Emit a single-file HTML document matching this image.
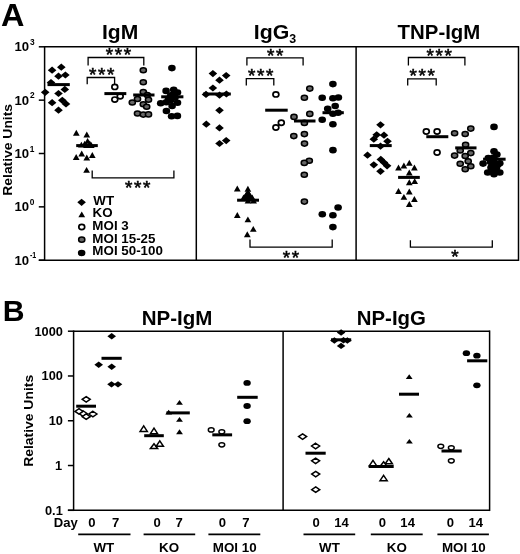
<!DOCTYPE html><html><head><meta charset="utf-8"><style>html,body{margin:0;padding:0;background:#fff;overflow:hidden}svg{display:block;filter:grayscale(1)}</style></head><body>
<svg width="520" height="554" viewBox="0 0 520 554" font-family='"Liberation Sans", sans-serif' font-weight="bold" fill="#000">
<rect width="520" height="554" fill="#fff"/>
<text transform="translate(0.93,26) scale(1.0654,1)" font-size="30.43">A</text>
<line x1="44.6" y1="46.8" x2="518.5" y2="46.8" stroke="#000" stroke-width="1.5"/>
<line x1="38.8" y1="260.2" x2="518.5" y2="260.2" stroke="#000" stroke-width="1.5"/>
<line x1="44.6" y1="46.05" x2="44.6" y2="260.95" stroke="#000" stroke-width="1.5"/>
<line x1="196.3" y1="46.05" x2="196.3" y2="260.2" stroke="#000" stroke-width="1.5"/>
<line x1="356.1" y1="46.05" x2="356.1" y2="260.2" stroke="#000" stroke-width="1.5"/>
<line x1="518.5" y1="46.05" x2="518.5" y2="260.95" stroke="#000" stroke-width="1.5"/>
<line x1="38.8" y1="46.8" x2="44.6" y2="46.8" stroke="#000" stroke-width="1.5"/>
<text transform="translate(14.51,51.4) scale(0.9912,1)" font-size="13.29">10</text>
<text transform="translate(30.03,44.8) scale(0.9152,1)" font-size="9.14">3</text>
<line x1="38.8" y1="100.15" x2="44.6" y2="100.15" stroke="#000" stroke-width="1.5"/>
<text transform="translate(14.51,104.6) scale(0.9912,1)" font-size="13.29">10</text>
<text transform="translate(29.95,98.15) scale(0.9152,1)" font-size="9.14">2</text>
<line x1="38.8" y1="153.5" x2="44.6" y2="153.5" stroke="#000" stroke-width="1.5"/>
<text transform="translate(14.51,157.5) scale(0.9912,1)" font-size="13.29">10</text>
<text transform="translate(29.7,151.5) scale(0.9152,1)" font-size="9.14">1</text>
<line x1="38.8" y1="206.85" x2="44.6" y2="206.85" stroke="#000" stroke-width="1.5"/>
<text transform="translate(14.51,210.8) scale(0.9912,1)" font-size="13.29">10</text>
<text transform="translate(29.87,204.85) scale(0.9152,1)" font-size="9.14">0</text>
<line x1="38.8" y1="260.2" x2="44.6" y2="260.2" stroke="#000" stroke-width="1.5"/>
<text transform="translate(14.51,264.7) scale(0.9912,1)" font-size="13.29">10</text>
<text transform="translate(29.92,258.2) scale(0.7736,1)" font-size="9.14">-1</text>
<text transform="translate(11.65,195.67) rotate(-90) scale(1.0367,1)" font-size="13.40">Relative Units</text>
<text transform="translate(101.97,38.6) scale(1.0044,1)" font-size="21.01">IgM</text>
<text transform="translate(253.71,38.55) scale(1.0394,1)" font-size="20.50">IgG</text>
<text transform="translate(289.35,43) scale(1.0212,1)" font-size="12.14">3</text>
<text transform="translate(397.6,38.55) scale(0.9810,1)" font-size="20.80">TNP-IgM</text>
<polygon points="61.3,63.6 65.6,67.2 61.3,70.8 57,67.2" fill="#000"/>
<polygon points="52.1,66.6 56.4,70.2 52.1,73.8 47.8,70.2" fill="#000"/>
<polygon points="58.5,72.6 62.8,76.2 58.5,79.8 54.2,76.2" fill="#000"/>
<polygon points="65.4,71.4 69.7,75 65.4,78.6 61.1,75" fill="#000"/>
<polygon points="51,78.9 55.3,82.5 51,86.1 46.7,82.5" fill="#000"/>
<polygon points="64.8,85.8 69.1,89.4 64.8,93 60.5,89.4" fill="#000"/>
<polygon points="45.2,88.7 49.5,92.3 45.2,95.9 40.9,92.3" fill="#000"/>
<polygon points="58.5,89.9 62.8,93.5 58.5,97.1 54.2,93.5" fill="#000"/>
<polygon points="52.1,99.1 56.4,102.7 52.1,106.3 47.8,102.7" fill="#000"/>
<polygon points="62.3,96.7 66.6,100.3 62.3,103.9 58,100.3" fill="#000"/>
<polygon points="66,100.3 70.3,103.9 66,107.5 61.7,103.9" fill="#000"/>
<polygon points="58.5,106.6 62.8,110.2 58.5,113.8 54.2,110.2" fill="#000"/>
<rect x="47.5" y="83.1" width="22.3" height="3.0" fill="#000"/>
<polygon points="76.3,129.8 79.65,135.7 72.95,135.7" fill="#000"/>
<polygon points="86.8,131.5 90.15,137.4 83.45,137.4" fill="#000"/>
<polygon points="87.6,137.9 90.95,143.8 84.25,143.8" fill="#000"/>
<polygon points="84.7,140.7 88.05,146.6 81.35,146.6" fill="#000"/>
<polygon points="81.4,141.7 84.75,147.6 78.05,147.6" fill="#000"/>
<polygon points="89.8,140.6 93.15,146.5 86.45,146.5" fill="#000"/>
<polygon points="86.5,142 89.85,147.9 83.15,147.9" fill="#000"/>
<polygon points="91.3,142 94.65,147.9 87.95,147.9" fill="#000"/>
<polygon points="81.7,150.6 85.05,156.5 78.35,156.5" fill="#000"/>
<polygon points="76.2,154 79.55,159.9 72.85,159.9" fill="#000"/>
<polygon points="86.8,154.6 90.15,160.5 83.45,160.5" fill="#000"/>
<polygon points="92.3,152 95.65,157.9 88.95,157.9" fill="#000"/>
<polygon points="86.6,166.9 89.95,172.8 83.25,172.8" fill="#000"/>
<rect x="76.2" y="144.1" width="21.6" height="3.0" fill="#000"/>
<ellipse cx="114.8" cy="86.9" rx="2.95" ry="2.6" fill="#fff" stroke="#000" stroke-width="1.7"/>
<ellipse cx="114.8" cy="99.6" rx="2.95" ry="2.6" fill="#fff" stroke="#000" stroke-width="1.7"/>
<ellipse cx="120.2" cy="96.2" rx="2.95" ry="2.6" fill="#fff" stroke="#000" stroke-width="1.7"/>
<rect x="104.4" y="92.1" width="21.9" height="3.0" fill="#000"/>
<ellipse cx="143.3" cy="70.2" rx="3.1" ry="2.55" fill="#666" stroke="#000" stroke-width="1.5"/>
<ellipse cx="143.3" cy="82.3" rx="3.1" ry="2.55" fill="#666" stroke="#000" stroke-width="1.5"/>
<ellipse cx="143.3" cy="92.1" rx="3.1" ry="2.55" fill="#666" stroke="#000" stroke-width="1.5"/>
<ellipse cx="147.3" cy="95" rx="3.1" ry="2.55" fill="#666" stroke="#000" stroke-width="1.5"/>
<ellipse cx="137.5" cy="99" rx="3.1" ry="2.55" fill="#666" stroke="#000" stroke-width="1.5"/>
<ellipse cx="148.5" cy="99.8" rx="3.1" ry="2.55" fill="#666" stroke="#000" stroke-width="1.5"/>
<ellipse cx="132.3" cy="102.5" rx="3.1" ry="2.55" fill="#666" stroke="#000" stroke-width="1.5"/>
<ellipse cx="143.3" cy="104.2" rx="3.1" ry="2.55" fill="#666" stroke="#000" stroke-width="1.5"/>
<ellipse cx="146.7" cy="106.8" rx="3.1" ry="2.55" fill="#666" stroke="#000" stroke-width="1.5"/>
<ellipse cx="137.5" cy="113.5" rx="3.1" ry="2.55" fill="#666" stroke="#000" stroke-width="1.5"/>
<ellipse cx="143.3" cy="114.6" rx="3.1" ry="2.55" fill="#666" stroke="#000" stroke-width="1.5"/>
<ellipse cx="148.5" cy="114.4" rx="3.1" ry="2.55" fill="#666" stroke="#000" stroke-width="1.5"/>
<rect x="133.2" y="93.5" width="21.3" height="3.0" fill="#000"/>
<ellipse cx="171.9" cy="68.1" rx="3.8" ry="3.3" fill="#000"/>
<ellipse cx="166.1" cy="90.9" rx="3.8" ry="3.3" fill="#000"/>
<ellipse cx="173.7" cy="89.8" rx="3.8" ry="3.3" fill="#000"/>
<ellipse cx="177.5" cy="92.5" rx="3.8" ry="3.3" fill="#000"/>
<ellipse cx="160.7" cy="103.3" rx="3.8" ry="3.3" fill="#000"/>
<ellipse cx="171" cy="100" rx="3.8" ry="3.3" fill="#000"/>
<ellipse cx="177.5" cy="102.8" rx="3.8" ry="3.3" fill="#000"/>
<ellipse cx="172.1" cy="106" rx="3.8" ry="3.3" fill="#000"/>
<ellipse cx="166.4" cy="111" rx="3.8" ry="3.3" fill="#000"/>
<ellipse cx="171.6" cy="116.2" rx="3.8" ry="3.3" fill="#000"/>
<ellipse cx="177.4" cy="115.9" rx="3.8" ry="3.3" fill="#000"/>
<ellipse cx="172" cy="95" rx="3.8" ry="3.3" fill="#000"/>
<ellipse cx="166.3" cy="102.3" rx="3.8" ry="3.3" fill="#000"/>
<ellipse cx="170.5" cy="96" rx="3.8" ry="3.3" fill="#000"/>
<ellipse cx="175" cy="97.5" rx="3.8" ry="3.3" fill="#000"/>
<ellipse cx="168.5" cy="99" rx="3.8" ry="3.3" fill="#000"/>
<rect x="161.2" y="95.3" width="22.2" height="3.0" fill="#000"/>
<polyline points="88.1,65.5 88.1,57.5 143.8,57.5 143.8,65.5" fill="none" stroke="#000" stroke-width="1.3"/>
<text x="118.4" y="61.4" font-size="19" font-weight="normal" stroke="#000" stroke-width="0.55" text-anchor="middle" letter-spacing="1.6" dx="0.8">***</text>
<polyline points="87.2,84.2 87.2,77.5 114.6,77.5 114.6,84.2" fill="none" stroke="#000" stroke-width="1.3"/>
<text x="101.6" y="81.4" font-size="19" font-weight="normal" stroke="#000" stroke-width="0.55" text-anchor="middle" letter-spacing="1.6" dx="0.8">***</text>
<polyline points="92.2,170.4 92.2,177.8 173.9,177.8 173.9,170.4" fill="none" stroke="#000" stroke-width="1.3"/>
<text x="137.7" y="194.3" font-size="19" font-weight="normal" stroke="#000" stroke-width="0.55" text-anchor="middle" letter-spacing="1.6" dx="0.8">***</text>
<polygon points="81.6,198.7 85.9,202.3 81.6,205.9 77.3,202.3" fill="#000"/>
<polygon points="81.75,211.6 85.15,217.3 78.35,217.3" fill="#000"/>
<ellipse cx="81.75" cy="227.05" rx="2.95" ry="2.6" fill="#fff" stroke="#000" stroke-width="1.7"/>
<ellipse cx="81.75" cy="239.65" rx="3.1" ry="2.55" fill="#666" stroke="#000" stroke-width="1.5"/>
<ellipse cx="81.65" cy="252.95" rx="3.8" ry="3.3" fill="#000"/>
<text transform="translate(93.3,205.3) scale(1.0169,1)" font-size="13.14">WT</text>
<text transform="translate(92.56,216.8) scale(1.0169,1)" font-size="13.14">KO</text>
<text transform="translate(92.36,229.7) scale(1.0169,1)" font-size="13.14">MOI 3</text>
<text transform="translate(92.36,242.8) scale(1.0169,1)" font-size="13.14">MOI 15-25</text>
<text transform="translate(92.36,255.4) scale(1.0169,1)" font-size="13.14">MOI 50-100</text>
<polygon points="212.9,70 217.2,73.6 212.9,77.2 208.6,73.6" fill="#000"/>
<polygon points="226.2,72 230.5,75.6 226.2,79.2 221.9,75.6" fill="#000"/>
<polygon points="219.5,76.6 223.8,80.2 219.5,83.8 215.2,80.2" fill="#000"/>
<polygon points="212.9,84.4 217.2,88 212.9,91.6 208.6,88" fill="#000"/>
<polygon points="206,90.8 210.3,94.4 206,98 201.7,94.4" fill="#000"/>
<polygon points="219.5,91.6 223.8,95.2 219.5,98.8 215.2,95.2" fill="#000"/>
<polygon points="226.4,90.4 230.7,94 226.4,97.6 222.1,94" fill="#000"/>
<polygon points="219.5,106.7 223.8,110.3 219.5,113.9 215.2,110.3" fill="#000"/>
<polygon points="206.3,120.6 210.6,124.2 206.3,127.8 202,124.2" fill="#000"/>
<polygon points="219.5,124.3 223.8,127.9 219.5,131.5 215.2,127.9" fill="#000"/>
<polygon points="226.2,137 230.5,140.6 226.2,144.2 221.9,140.6" fill="#000"/>
<polygon points="219.5,139.9 223.8,143.5 219.5,147.1 215.2,143.5" fill="#000"/>
<rect x="203.1" y="92.5" width="27.7" height="3.0" fill="#000"/>
<polygon points="237.3,185.6 240.65,191.5 233.95,191.5" fill="#000"/>
<polygon points="247.9,185.8 251.25,191.7 244.55,191.7" fill="#000"/>
<polygon points="247.9,189 251.25,194.9 244.55,194.9" fill="#000"/>
<polygon points="246.3,191.5 249.65,197.4 242.95,197.4" fill="#000"/>
<polygon points="249.5,191.5 252.85,197.4 246.15,197.4" fill="#000"/>
<polygon points="245,193.7 248.35,199.6 241.65,199.6" fill="#000"/>
<polygon points="250.8,193.7 254.15,199.6 247.45,199.6" fill="#000"/>
<polygon points="247.9,194 251.25,199.9 244.55,199.9" fill="#000"/>
<polygon points="243.5,194.6 246.85,200.5 240.15,200.5" fill="#000"/>
<polygon points="252.3,194.6 255.65,200.5 248.95,200.5" fill="#000"/>
<polygon points="248,197.6 251.35,203.5 244.65,203.5" fill="#000"/>
<polygon points="253.6,197.6 256.95,203.5 250.25,203.5" fill="#000"/>
<polygon points="237.3,212.1 240.65,218 233.95,218" fill="#000"/>
<polygon points="247.9,216.4 251.25,222.3 244.55,222.3" fill="#000"/>
<polygon points="253.3,225.9 256.65,231.8 249.95,231.8" fill="#000"/>
<polygon points="247.3,231.3 250.65,237.2 243.95,237.2" fill="#000"/>
<rect x="237.1" y="198.7" width="21.9" height="3.0" fill="#000"/>
<ellipse cx="275.9" cy="94.4" rx="2.95" ry="2.6" fill="#fff" stroke="#000" stroke-width="1.7"/>
<ellipse cx="281.3" cy="122.7" rx="2.95" ry="2.6" fill="#fff" stroke="#000" stroke-width="1.7"/>
<ellipse cx="275.9" cy="127.5" rx="2.95" ry="2.6" fill="#fff" stroke="#000" stroke-width="1.7"/>
<rect x="265.2" y="108.7" width="22.5" height="3.0" fill="#000"/>
<ellipse cx="309.8" cy="88.6" rx="3.1" ry="2.55" fill="#666" stroke="#000" stroke-width="1.5"/>
<ellipse cx="304.4" cy="97.7" rx="3.1" ry="2.55" fill="#666" stroke="#000" stroke-width="1.5"/>
<ellipse cx="309.8" cy="113.9" rx="3.1" ry="2.55" fill="#666" stroke="#000" stroke-width="1.5"/>
<ellipse cx="294" cy="116.9" rx="3.1" ry="2.55" fill="#666" stroke="#000" stroke-width="1.5"/>
<ellipse cx="304.4" cy="122.9" rx="3.1" ry="2.55" fill="#666" stroke="#000" stroke-width="1.5"/>
<ellipse cx="304.4" cy="134.1" rx="3.1" ry="2.55" fill="#666" stroke="#000" stroke-width="1.5"/>
<ellipse cx="293.8" cy="136.1" rx="3.1" ry="2.55" fill="#666" stroke="#000" stroke-width="1.5"/>
<ellipse cx="304.5" cy="143.6" rx="3.1" ry="2.55" fill="#666" stroke="#000" stroke-width="1.5"/>
<ellipse cx="309.3" cy="160.8" rx="3.1" ry="2.55" fill="#666" stroke="#000" stroke-width="1.5"/>
<ellipse cx="304.3" cy="162.9" rx="3.1" ry="2.55" fill="#666" stroke="#000" stroke-width="1.5"/>
<ellipse cx="304.3" cy="174.8" rx="3.1" ry="2.55" fill="#666" stroke="#000" stroke-width="1.5"/>
<ellipse cx="304.4" cy="201.6" rx="3.1" ry="2.55" fill="#666" stroke="#000" stroke-width="1.5"/>
<rect x="294" y="119.5" width="21.5" height="3.0" fill="#000"/>
<ellipse cx="332.9" cy="84.1" rx="3.8" ry="3.3" fill="#000"/>
<ellipse cx="322.2" cy="97.7" rx="3.8" ry="3.3" fill="#000"/>
<ellipse cx="332.9" cy="98.3" rx="3.8" ry="3.3" fill="#000"/>
<ellipse cx="338.4" cy="97.5" rx="3.8" ry="3.3" fill="#000"/>
<ellipse cx="327.7" cy="108.7" rx="3.8" ry="3.3" fill="#000"/>
<ellipse cx="335.2" cy="106" rx="3.8" ry="3.3" fill="#000"/>
<ellipse cx="332.9" cy="113.8" rx="3.8" ry="3.3" fill="#000"/>
<ellipse cx="338.1" cy="112.7" rx="3.8" ry="3.3" fill="#000"/>
<ellipse cx="322.2" cy="119.8" rx="3.8" ry="3.3" fill="#000"/>
<ellipse cx="332.9" cy="124.2" rx="3.8" ry="3.3" fill="#000"/>
<ellipse cx="332.95" cy="150.15" rx="3.8" ry="3.3" fill="#000"/>
<ellipse cx="338.1" cy="207.5" rx="3.8" ry="3.3" fill="#000"/>
<ellipse cx="322.3" cy="214.3" rx="3.8" ry="3.3" fill="#000"/>
<ellipse cx="332.9" cy="215.2" rx="3.8" ry="3.3" fill="#000"/>
<ellipse cx="332.9" cy="227.1" rx="3.8" ry="3.3" fill="#000"/>
<rect x="322.5" y="111.2" width="21.3" height="3.0" fill="#000"/>
<polyline points="246.9,65.5 246.9,57.8 303.1,57.8 303.1,65.5" fill="none" stroke="#000" stroke-width="1.3"/>
<text x="275.3" y="62.2" font-size="19" font-weight="normal" stroke="#000" stroke-width="0.55" text-anchor="middle" letter-spacing="1.6" dx="0.8">**</text>
<polyline points="246.3,85.6 246.3,78.7 273.8,78.7 273.8,85.6" fill="none" stroke="#000" stroke-width="1.3"/>
<text x="260.8" y="82.4" font-size="19" font-weight="normal" stroke="#000" stroke-width="0.55" text-anchor="middle" letter-spacing="1.6" dx="0.8">***</text>
<polyline points="250,239.6 250,247.2 332.2,247.2 332.2,239.6" fill="none" stroke="#000" stroke-width="1.3"/>
<text x="291" y="263.5" font-size="19" font-weight="normal" stroke="#000" stroke-width="0.55" text-anchor="middle" letter-spacing="1.6" dx="0.8">**</text>
<polygon points="380.5,121.2 384.8,124.8 380.5,128.4 376.2,124.8" fill="#000"/>
<polygon points="376.7,131.2 381,134.8 376.7,138.4 372.4,134.8" fill="#000"/>
<polygon points="384,131.6 388.3,135.2 384,138.8 379.7,135.2" fill="#000"/>
<polygon points="373.8,135.6 378.1,139.2 373.8,142.8 369.5,139.2" fill="#000"/>
<polygon points="387.5,137.7 391.8,141.3 387.5,144.9 383.2,141.3" fill="#000"/>
<polygon points="380.5,142.6 384.8,146.2 380.5,149.8 376.2,146.2" fill="#000"/>
<polygon points="367.5,151.6 371.8,155.2 367.5,158.8 363.2,155.2" fill="#000"/>
<polygon points="380.8,155.8 385.1,159.4 380.8,163 376.5,159.4" fill="#000"/>
<polygon points="384,159 388.3,162.6 384,166.2 379.7,162.6" fill="#000"/>
<polygon points="387.1,162.2 391.4,165.8 387.1,169.4 382.8,165.8" fill="#000"/>
<polygon points="373.8,161.2 378.1,164.8 373.8,168.4 369.5,164.8" fill="#000"/>
<polygon points="380.5,167.7 384.8,171.3 380.5,174.9 376.2,171.3" fill="#000"/>
<rect x="369.8" y="144.1" width="21.9" height="3.0" fill="#000"/>
<polygon points="409.3,159.8 412.65,165.7 405.95,165.7" fill="#000"/>
<polygon points="403.9,162.5 407.25,168.4 400.55,168.4" fill="#000"/>
<polygon points="398.5,164.6 401.85,170.5 395.15,170.5" fill="#000"/>
<polygon points="414.4,164.6 417.75,170.5 411.05,170.5" fill="#000"/>
<polygon points="409.3,169.5 412.65,175.4 405.95,175.4" fill="#000"/>
<polygon points="409.3,179.3 412.65,185.2 405.95,185.2" fill="#000"/>
<polygon points="414.7,178.2 418.05,184.1 411.35,184.1" fill="#000"/>
<polygon points="398.5,188 401.85,193.9 395.15,193.9" fill="#000"/>
<polygon points="409.3,188.5 412.65,194.4 405.95,194.4" fill="#000"/>
<polygon points="403.9,193.9 407.25,199.8 400.55,199.8" fill="#000"/>
<polygon points="414.4,196 417.75,201.9 411.05,201.9" fill="#000"/>
<polygon points="409.3,201 412.65,206.9 405.95,206.9" fill="#000"/>
<rect x="398.1" y="175.9" width="21.7" height="3.0" fill="#000"/>
<ellipse cx="426.3" cy="131.5" rx="2.95" ry="2.6" fill="#fff" stroke="#000" stroke-width="1.7"/>
<ellipse cx="437.1" cy="131.5" rx="2.95" ry="2.6" fill="#fff" stroke="#000" stroke-width="1.7"/>
<ellipse cx="437.1" cy="152.5" rx="2.95" ry="2.6" fill="#fff" stroke="#000" stroke-width="1.7"/>
<rect x="426.3" y="135.2" width="22" height="3.0" fill="#000"/>
<ellipse cx="454.6" cy="133.2" rx="3.1" ry="2.55" fill="#666" stroke="#000" stroke-width="1.5"/>
<ellipse cx="465.2" cy="134" rx="3.1" ry="2.55" fill="#666" stroke="#000" stroke-width="1.5"/>
<ellipse cx="470.8" cy="128.6" rx="3.1" ry="2.55" fill="#666" stroke="#000" stroke-width="1.5"/>
<ellipse cx="465.6" cy="144.8" rx="3.1" ry="2.55" fill="#666" stroke="#000" stroke-width="1.5"/>
<ellipse cx="460.2" cy="150.5" rx="3.1" ry="2.55" fill="#666" stroke="#000" stroke-width="1.5"/>
<ellipse cx="470.8" cy="153.1" rx="3.1" ry="2.55" fill="#666" stroke="#000" stroke-width="1.5"/>
<ellipse cx="454.6" cy="155.6" rx="3.1" ry="2.55" fill="#666" stroke="#000" stroke-width="1.5"/>
<ellipse cx="465.2" cy="156" rx="3.1" ry="2.55" fill="#666" stroke="#000" stroke-width="1.5"/>
<ellipse cx="468.2" cy="161.2" rx="3.1" ry="2.55" fill="#666" stroke="#000" stroke-width="1.5"/>
<ellipse cx="460.2" cy="163.7" rx="3.1" ry="2.55" fill="#666" stroke="#000" stroke-width="1.5"/>
<ellipse cx="470.8" cy="166.3" rx="3.1" ry="2.55" fill="#666" stroke="#000" stroke-width="1.5"/>
<ellipse cx="465.2" cy="169.2" rx="3.1" ry="2.55" fill="#666" stroke="#000" stroke-width="1.5"/>
<rect x="455.2" y="146.4" width="21.3" height="3.0" fill="#000"/>
<ellipse cx="494" cy="126.9" rx="3.8" ry="3.3" fill="#000"/>
<ellipse cx="494" cy="151.2" rx="3.8" ry="3.3" fill="#000"/>
<ellipse cx="496.9" cy="154.6" rx="3.8" ry="3.3" fill="#000"/>
<ellipse cx="488.3" cy="158.1" rx="3.8" ry="3.3" fill="#000"/>
<ellipse cx="483.1" cy="163.6" rx="3.8" ry="3.3" fill="#000"/>
<ellipse cx="493.5" cy="161.5" rx="3.8" ry="3.3" fill="#000"/>
<ellipse cx="499.8" cy="163.3" rx="3.8" ry="3.3" fill="#000"/>
<ellipse cx="493.5" cy="166.2" rx="3.8" ry="3.3" fill="#000"/>
<ellipse cx="487.7" cy="172.5" rx="3.8" ry="3.3" fill="#000"/>
<ellipse cx="494" cy="174.2" rx="3.8" ry="3.3" fill="#000"/>
<ellipse cx="499.8" cy="172.5" rx="3.8" ry="3.3" fill="#000"/>
<ellipse cx="491" cy="167.5" rx="3.8" ry="3.3" fill="#000"/>
<ellipse cx="496.5" cy="168" rx="3.8" ry="3.3" fill="#000"/>
<ellipse cx="494" cy="170.5" rx="3.8" ry="3.3" fill="#000"/>
<ellipse cx="498" cy="164.5" rx="3.8" ry="3.3" fill="#000"/>
<ellipse cx="493.5" cy="157.5" rx="3.8" ry="3.3" fill="#000"/>
<ellipse cx="490.5" cy="162" rx="3.8" ry="3.3" fill="#000"/>
<rect x="483.1" y="157.7" width="22.5" height="3.0" fill="#000"/>
<polyline points="408.4,65.6 408.4,57.5 464.9,57.5 464.9,65.6" fill="none" stroke="#000" stroke-width="1.3"/>
<text x="439.1" y="61.6" font-size="19" font-weight="normal" stroke="#000" stroke-width="0.55" text-anchor="middle" letter-spacing="1.6" dx="0.8">***</text>
<polyline points="407.7,85.5 407.7,78.8 436.2,78.8 436.2,85.5" fill="none" stroke="#000" stroke-width="1.3"/>
<text x="422.2" y="81.9" font-size="19" font-weight="normal" stroke="#000" stroke-width="0.55" text-anchor="middle" letter-spacing="1.6" dx="0.8">***</text>
<polyline points="410.4,240.3 410.4,247.2 492.3,247.2 492.3,240.3" fill="none" stroke="#000" stroke-width="1.3"/>
<text x="455" y="263.4" font-size="19" font-weight="normal" stroke="#000" stroke-width="0.55" text-anchor="middle" letter-spacing="1.6" dx="0.8">*</text>
<text transform="translate(2.69,320.6) scale(1.0459,1)" font-size="28.84">B</text>
<line x1="73.6" y1="331.2" x2="489.6" y2="331.2" stroke="#000" stroke-width="1.5"/>
<line x1="67.9" y1="510.3" x2="489.6" y2="510.3" stroke="#000" stroke-width="1.5"/>
<line x1="73.6" y1="330.45" x2="73.6" y2="511.05" stroke="#000" stroke-width="1.5"/>
<line x1="283.1" y1="331.2" x2="283.1" y2="510.3" stroke="#000" stroke-width="1.5"/>
<line x1="489.6" y1="330.45" x2="489.6" y2="511.05" stroke="#000" stroke-width="1.5"/>
<line x1="67.9" y1="331.2" x2="73.6" y2="331.2" stroke="#000" stroke-width="1.5"/>
<text transform="translate(34.49,335.7) scale(0.9848,1)" font-size="13.00">1000</text>
<line x1="67.9" y1="375.98" x2="73.6" y2="375.98" stroke="#000" stroke-width="1.5"/>
<text transform="translate(41.53,380.48) scale(0.9848,1)" font-size="13.00">100</text>
<line x1="67.9" y1="420.75" x2="73.6" y2="420.75" stroke="#000" stroke-width="1.5"/>
<text transform="translate(48.7,425.25) scale(0.9848,1)" font-size="13.00">10</text>
<line x1="67.9" y1="465.52" x2="73.6" y2="465.52" stroke="#000" stroke-width="1.5"/>
<text transform="translate(55.01,470.02) scale(0.9848,1)" font-size="13.00">1</text>
<line x1="67.9" y1="510.3" x2="73.6" y2="510.3" stroke="#000" stroke-width="1.5"/>
<text transform="translate(44.99,514.8) scale(0.9848,1)" font-size="13.00">0.1</text>
<text transform="translate(33.1,466.77) rotate(-90) scale(1.0379,1)" font-size="13.40">Relative Units</text>
<text transform="translate(141.76,324.8) scale(0.9776,1)" font-size="21.01">NP-IgM</text>
<text transform="translate(356.77,324.6) scale(0.9985,1)" font-size="20.43">NP-IgG</text>
<text transform="translate(53.68,527.45) scale(0.9985,1)" font-size="13.12">Day</text>
<text transform="translate(88.25,527.45) scale(0.9985,1)" font-size="13.12">0</text>
<text transform="translate(112,527.45) scale(0.9985,1)" font-size="13.12">7</text>
<text transform="translate(153.6,527.45) scale(0.9985,1)" font-size="13.12">0</text>
<text transform="translate(175.4,527.45) scale(0.9985,1)" font-size="13.12">7</text>
<text transform="translate(218.7,527.45) scale(0.9985,1)" font-size="13.12">0</text>
<text transform="translate(242.2,527.45) scale(0.9985,1)" font-size="13.12">7</text>
<text transform="translate(312.5,527.45) scale(0.9985,1)" font-size="13.12">0</text>
<text transform="translate(334.14,527.45) scale(0.9985,1)" font-size="13.12">14</text>
<text transform="translate(378.8,527.45) scale(0.9985,1)" font-size="13.12">0</text>
<text transform="translate(400.34,527.45) scale(0.9985,1)" font-size="13.12">14</text>
<text transform="translate(446.7,527.45) scale(0.9985,1)" font-size="13.12">0</text>
<text transform="translate(468.54,527.45) scale(0.9985,1)" font-size="13.12">14</text>
<line x1="78.2" y1="534.4" x2="130.5" y2="534.4" stroke="#000" stroke-width="1.6"/>
<line x1="143.6" y1="534.4" x2="195.2" y2="534.4" stroke="#000" stroke-width="1.6"/>
<line x1="208.4" y1="534.4" x2="260.3" y2="534.4" stroke="#000" stroke-width="1.6"/>
<line x1="303.5" y1="534.4" x2="355.2" y2="534.4" stroke="#000" stroke-width="1.6"/>
<line x1="370.8" y1="534.4" x2="422.7" y2="534.4" stroke="#000" stroke-width="1.6"/>
<line x1="437.4" y1="534.4" x2="488.9" y2="534.4" stroke="#000" stroke-width="1.6"/>
<text transform="translate(93.4,551.55) scale(1.0002,1)" font-size="13.36">WT</text>
<text transform="translate(159.08,551.55) scale(1.0002,1)" font-size="13.36">KO</text>
<text transform="translate(212.84,551.55) scale(1.0002,1)" font-size="13.36">MOI 10</text>
<text transform="translate(319.1,551.55) scale(1.0002,1)" font-size="13.36">WT</text>
<text transform="translate(386.78,551.55) scale(1.0002,1)" font-size="13.36">KO</text>
<text transform="translate(441.94,551.55) scale(1.0002,1)" font-size="13.36">MOI 10</text>
<polygon points="86.2,396.55 90.2,399.3 86.2,402.05 82.2,399.3" fill="#fff" stroke="#000" stroke-width="1.5"/>
<polygon points="83,410.75 87,413.5 83,416.25 79,413.5" fill="#fff" stroke="#000" stroke-width="1.5"/>
<polygon points="79,408.65 83,411.4 79,414.15 75,411.4" fill="#fff" stroke="#000" stroke-width="1.5"/>
<polygon points="92.9,411.25 96.9,414 92.9,416.75 88.9,414" fill="#fff" stroke="#000" stroke-width="1.5"/>
<polygon points="86.2,413.95 90.2,416.7 86.2,419.45 82.2,416.7" fill="#fff" stroke="#000" stroke-width="1.5"/>
<rect x="76.2" y="404.7" width="19.8" height="3.0" fill="#000"/>
<polygon points="111.7,333.1 116,336.3 111.7,339.5 107.4,336.3" fill="#000"/>
<polygon points="98.7,361.6 103,364.8 98.7,368 94.4,364.8" fill="#000"/>
<polygon points="111.7,363.5 116,366.7 111.7,369.9 107.4,366.7" fill="#000"/>
<polygon points="111.5,381.15 115.8,384.35 111.5,387.55 107.2,384.35" fill="#000"/>
<polygon points="118,381.15 122.3,384.35 118,387.55 113.7,384.35" fill="#000"/>
<rect x="101.5" y="356.8" width="20.2" height="3.0" fill="#000"/>
<polygon points="143.7,425.9 147.3,431.4 140.1,431.4" fill="#fff" stroke="#000" stroke-width="1.5"/>
<polygon points="154,428.2 157.6,433.7 150.4,433.7" fill="#fff" stroke="#000" stroke-width="1.5"/>
<polygon points="154,443.8 157.6,448.5 150.4,448.5" fill="#fff" stroke="#000" stroke-width="1.5"/>
<polygon points="159.8,440.9 163.4,446.3 156.2,446.3" fill="#fff" stroke="#000" stroke-width="1.5"/>
<rect x="144.2" y="434.2" width="19.6" height="3.0" fill="#000"/>
<polygon points="179.5,400 182.9,404.8 176.1,404.8" fill="#000"/>
<polygon points="168.7,409.8 172.1,414.4 165.3,414.4" fill="#000"/>
<polygon points="179.5,417.1 182.9,421.8 176.1,421.8" fill="#000"/>
<polygon points="179.5,429.3 182.9,434.2 176.1,434.2" fill="#000"/>
<rect x="166.4" y="411.4" width="23.4" height="3.0" fill="#000"/>
<ellipse cx="211.2" cy="429.9" rx="2.9" ry="2.1" fill="#fff" stroke="#000" stroke-width="1.45"/>
<ellipse cx="221.8" cy="431.8" rx="2.9" ry="2.1" fill="#fff" stroke="#000" stroke-width="1.45"/>
<ellipse cx="221.8" cy="444.85" rx="2.9" ry="2.1" fill="#fff" stroke="#000" stroke-width="1.45"/>
<rect x="212.3" y="433.35" width="19.8" height="3.0" fill="#000"/>
<ellipse cx="247.1" cy="382.9" rx="3.7" ry="2.9" fill="#000"/>
<ellipse cx="247.1" cy="406" rx="3.7" ry="2.9" fill="#000"/>
<ellipse cx="247.1" cy="421.2" rx="3.7" ry="2.9" fill="#000"/>
<rect x="237.2" y="395.8" width="20.5" height="3.0" fill="#000"/>
<polygon points="302.6,433.85 306.6,436.6 302.6,439.35 298.6,436.6" fill="#fff" stroke="#000" stroke-width="1.5"/>
<polygon points="315.6,443.25 319.6,446 315.6,448.75 311.6,446" fill="#fff" stroke="#000" stroke-width="1.5"/>
<polygon points="315.6,458.05 319.6,460.8 315.6,463.55 311.6,460.8" fill="#fff" stroke="#000" stroke-width="1.5"/>
<polygon points="315.7,471.3 319.7,474.05 315.7,476.8 311.7,474.05" fill="#fff" stroke="#000" stroke-width="1.5"/>
<polygon points="315.7,486.95 319.7,489.7 315.7,492.45 311.7,489.7" fill="#fff" stroke="#000" stroke-width="1.5"/>
<rect x="305.5" y="451.7" width="20.2" height="3.0" fill="#000"/>
<polygon points="341.1,329.3 345.4,332.5 341.1,335.7 336.8,332.5" fill="#000"/>
<polygon points="334.4,337.3 338.7,340.5 334.4,343.7 330.1,340.5" fill="#000"/>
<polygon points="347.35,337.3 351.65,340.5 347.35,343.7 343.05,340.5" fill="#000"/>
<polygon points="341.1,342.7 345.4,345.9 341.1,349.1 336.8,345.9" fill="#000"/>
<polygon points="343.5,337.1 347.8,340.3 343.5,343.5 339.2,340.3" fill="#000"/>
<rect x="331" y="338.3" width="20.2" height="3.0" fill="#000"/>
<polygon points="373,460.4 376.6,465.7 369.4,465.7" fill="#fff" stroke="#000" stroke-width="1.5"/>
<polygon points="388.8,458.5 392.4,463.8 385.2,463.8" fill="#fff" stroke="#000" stroke-width="1.5"/>
<polygon points="383.6,461.8 387.2,466.6 380,466.6" fill="#fff" stroke="#000" stroke-width="1.5"/>
<polygon points="383.6,475.3 387.2,480.7 380,480.7" fill="#fff" stroke="#000" stroke-width="1.5"/>
<rect x="368.7" y="465" width="25" height="3.0" fill="#000"/>
<polygon points="409.2,374.2 412.6,379.1 405.8,379.1" fill="#000"/>
<polygon points="409.4,413.1 412.8,417.6 406,417.6" fill="#000"/>
<polygon points="409.4,439.1 412.8,443.6 406,443.6" fill="#000"/>
<rect x="399" y="392.7" width="20" height="3.0" fill="#000"/>
<ellipse cx="440.8" cy="446.3" rx="2.9" ry="2.1" fill="#fff" stroke="#000" stroke-width="1.45"/>
<ellipse cx="451.3" cy="447.8" rx="2.9" ry="2.1" fill="#fff" stroke="#000" stroke-width="1.45"/>
<ellipse cx="451.3" cy="460.8" rx="2.9" ry="2.1" fill="#fff" stroke="#000" stroke-width="1.45"/>
<rect x="441.5" y="449.5" width="20.2" height="3.0" fill="#000"/>
<ellipse cx="466.4" cy="353.2" rx="3.7" ry="2.9" fill="#000"/>
<ellipse cx="476.9" cy="355.7" rx="3.7" ry="2.9" fill="#000"/>
<ellipse cx="476.9" cy="385.3" rx="3.7" ry="2.9" fill="#000"/>
<rect x="467.1" y="359.3" width="20.2" height="3.0" fill="#000"/>
</svg></body></html>
